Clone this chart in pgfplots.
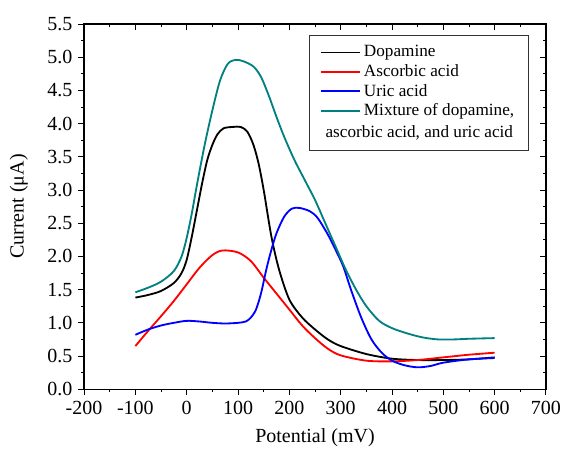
\documentclass[border=0pt]{standalone}
\usepackage{fontspec}
\setmainfont{Liberation Serif}
\usepackage{pgfplots}
\pgfplotsset{compat=1.18}
\definecolor{mixteal}{RGB}{0,128,128}
\begin{document}
\begin{tikzpicture}
\pgfplotsset{
  base/.style={
    width=277pt, height=219pt, scale only axis,
    xmin=-200, xmax=700, ymin=0, ymax=5.5,
    xtick={-200,-100,...,700}, ytick={0,0.5,...,5.5},
    minor x tick num=1, minor y tick num=1,
    major tick length=3.4pt, minor tick length=1.8pt,
    every tick/.style={black, line width=0.6pt},
    axis line style={line width=0.8pt},
    /pgf/number format/assume math mode=true,
  },
  % sample line level with the first line of a two-line entry
  twoline legend/.style={
    legend image code/.code={\draw[##1, line width=1.1pt] (0pt,6.6pt) -- (23pt,6.6pt); \path (0pt,-6.6pt);}
  },
}
\begin{axis}[base, name=main,
    tick align=outside, xtick pos=bottom, ytick pos=left,
    font=\fontsize{12}{14}\selectfont,
    yticklabel style={/pgf/number format/.cd, fixed, fixed zerofill, precision=1},
    xticklabel style={/pgf/number format/.cd, fixed, precision=0},
    xlabel={Potential (mV)}, ylabel={Current (μA)},
    xlabel style={at={(axis description cs:0.5,-0.134)}, anchor=center},
    ylabel style={at={(axis description cs:-0.141,0.5)}, anchor=center},
    legend cell align=left,
    legend style={at={(0.963,0.969)}, anchor=north east, draw=black!80,
      line width=0.6pt, inner xsep=6.5pt, inner ysep=5pt,
      font=\fontsize{10.3}{13.2}\selectfont, row sep=1.5pt,
      nodes={align=left, inner xsep=2pt, inner ysep=0.8pt}},
    legend image code/.code={\draw[#1, line width=1.1pt] (0pt,0pt) -- (23pt,0pt);},
    every axis plot/.append style={line width=1.1pt, smooth, tension=0.5},
  ]
  % Dopamine
  \addplot[black] coordinates {
    (-100,1.38) (-75,1.42) (-50,1.48) (-25,1.6) (-10,1.75) (0,1.95) (10,2.3)
    (20,2.7) (30,3.1) (40,3.45) (50,3.68) (60,3.84) (72,3.93) (90,3.95)
    (105,3.95) (118,3.88) (130,3.68) (140,3.4) (150,3.0) (165,2.3) (180,1.8)
    (200,1.35) (225,1.08) (250,0.9) (275,0.75) (300,0.65) (350,0.53)
    (400,0.46) (450,0.44) (500,0.44) (550,0.45) (600,0.48)
  };
  \addlegendentry{Dopamine}
  % Ascorbic acid
  \addplot[red] coordinates {
    (-100,0.65) (-75,0.88) (-50,1.1) (-25,1.33) (0,1.58) (25,1.83) (50,2.02)
    (70,2.09) (100,2.06) (125,1.93) (150,1.68) (175,1.44) (200,1.2)
    (225,0.96) (250,0.77) (275,0.61) (300,0.51) (350,0.43) (400,0.42)
    (450,0.44) (500,0.48) (550,0.52) (600,0.55)
  };
  \addlegendentry{Ascorbic acid}
  % Uric acid
  \addplot[blue] coordinates {
    (-100,0.82) (-75,0.9) (-50,0.96) (-25,1.0) (0,1.03) (25,1.02) (50,1.0)
    (75,0.99) (100,1.0) (115,1.02) (125,1.08) (135,1.2) (145,1.45) (155,1.8)
    (165,2.1) (175,2.35) (190,2.6) (205,2.72) (220,2.73) (240,2.68)
    (255,2.58) (275,2.33) (290,2.1) (305,1.85) (320,1.5) (340,1.08)
    (360,0.75) (380,0.55) (400,0.43) (425,0.36) (450,0.33) (475,0.35)
    (500,0.40) (550,0.45) (600,0.47)
  };
  \addlegendentry{Uric acid}
  % Mixture
  \addplot[mixteal, twoline legend] coordinates {
    (-100,1.46) (-75,1.53) (-50,1.62) (-25,1.78) (-10,2.0) (0,2.28) (10,2.65)
    (20,3.08) (35,3.68) (50,4.2) (65,4.65) (80,4.9) (95,4.96) (110,4.94)
    (130,4.86) (145,4.7) (160,4.42) (175,4.1) (190,3.8) (210,3.45)
    (230,3.15) (250,2.85) (270,2.5) (290,2.15) (310,1.8) (330,1.5)
    (350,1.25) (375,1.03) (400,0.92) (430,0.84) (460,0.78) (490,0.75)
    (520,0.75) (550,0.76) (600,0.77)
  };
  \addlegendentry{Mixture of dopamine,\\\hspace*{-23pt}ascorbic acid, and uric acid}
\end{axis}
\begin{axis}[base,
    tick align=inside, xtick pos=top, ytick pos=right,
    xticklabels={}, yticklabels={},
  ]
\end{axis}
\pgfresetboundingbox
\path ([shift={(-50.4pt,-36pt)}]main.south west) rectangle ([shift={(10.2pt,14.4pt)}]main.north east);
\end{tikzpicture}
\end{document}
